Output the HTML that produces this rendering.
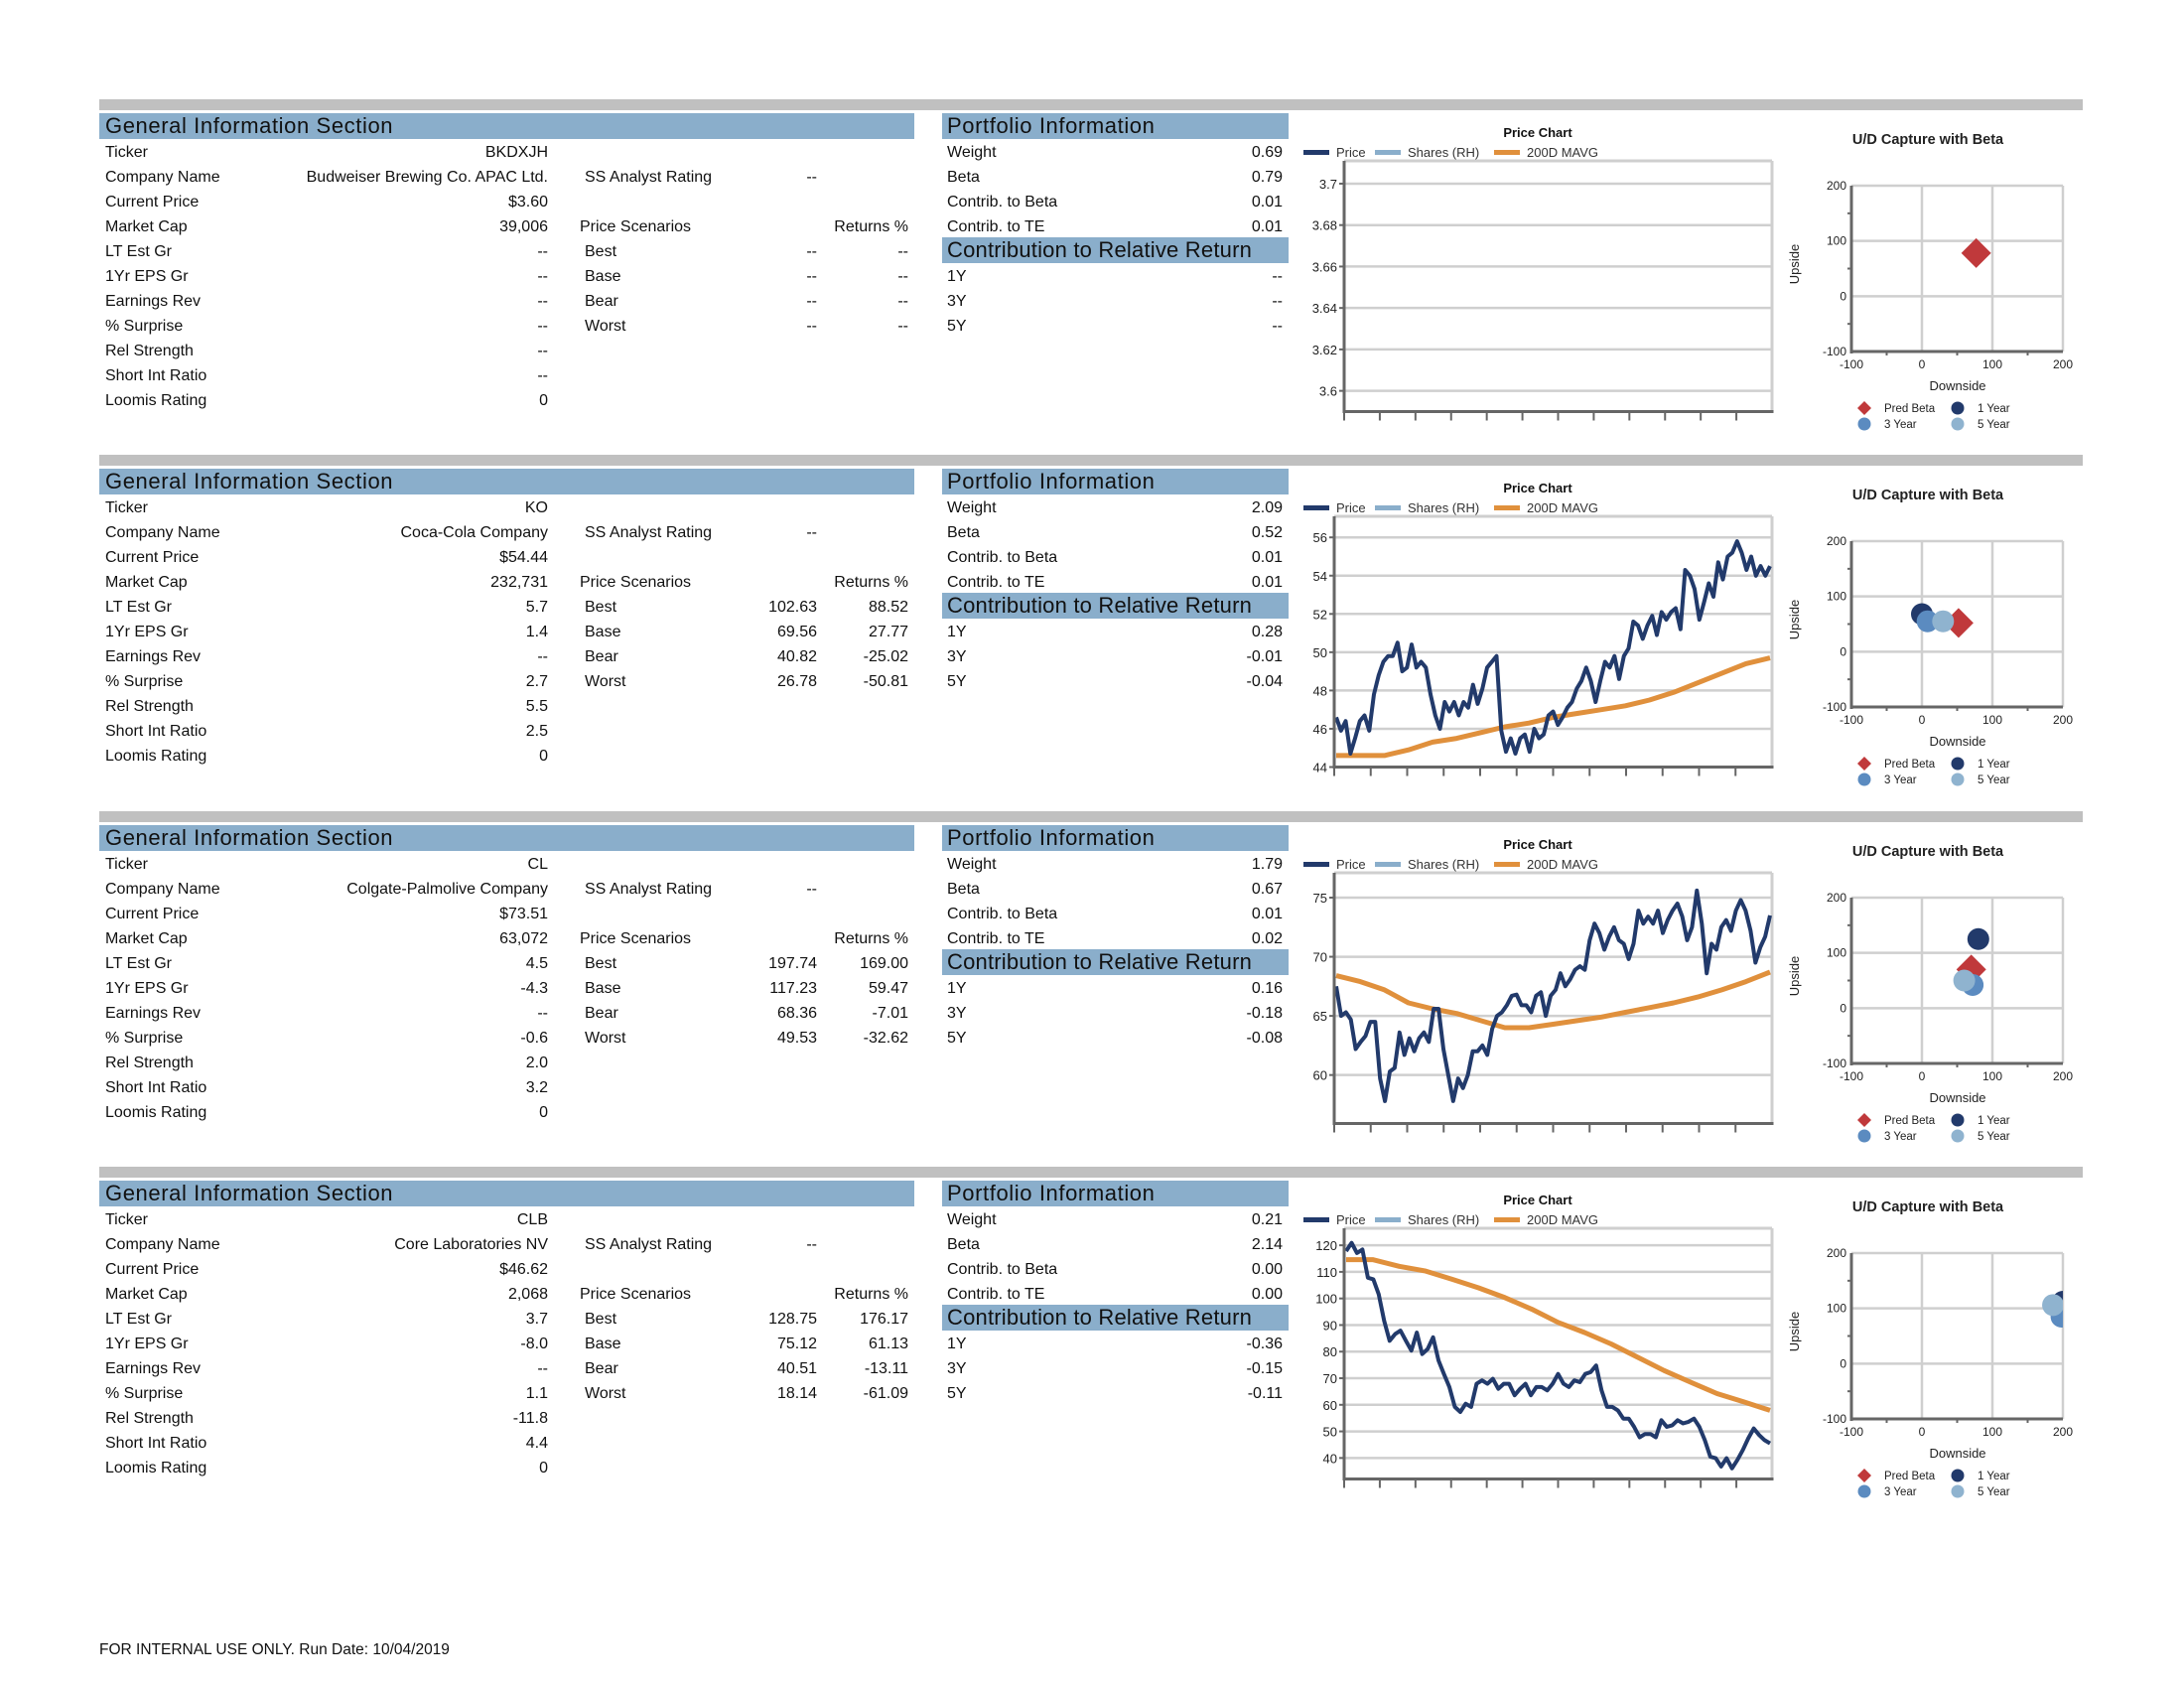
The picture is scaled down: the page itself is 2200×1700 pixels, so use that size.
<!DOCTYPE html>
<html><head><meta charset="utf-8">
<style>
html,body{margin:0;padding:0;background:#fff;}
svg{display:block;font-family:"Liberation Sans",sans-serif;}
</style></head>
<body>
<svg id="page" width="2200" height="1700" viewBox="0 0 2200 1700" xmlns="http://www.w3.org/2000/svg">
<rect x="0" y="0" width="2200" height="1700" fill="#fff"/>
<text x="100" y="1666" font-size="15.5" fill="#111">FOR INTERNAL USE ONLY. Run Date: 10/04/2019</text>
</svg>
<script>
// ---------- table data ----------
const blockTops = [100, 458, 817, 1175];
const genLabels = ["Ticker","Company Name","Current Price","Market Cap","LT Est Gr","1Yr EPS Gr","Earnings Rev","% Surprise","Rel Strength","Short Int Ratio","Loomis Rating"];
const genValues = [
 ["BKDXJH","Budweiser Brewing Co. APAC Ltd.","$3.60","39,006","--","--","--","--","--","--","0"],
 ["KO","Coca-Cola Company","$54.44","232,731","5.7","1.4","--","2.7","5.5","2.5","0"],
 ["CL","Colgate-Palmolive Company","$73.51","63,072","4.5","-4.3","--","-0.6","2.0","3.2","0"],
 ["CLB","Core Laboratories NV","$46.62","2,068","3.7","-8.0","--","1.1","-11.8","4.4","0"]
];
const scenNames = ["Best","Base","Bear","Worst"];
const scenPrices = [["--","--","--","--"],["102.63","69.56","40.82","26.78"],["197.74","117.23","68.36","49.53"],["128.75","75.12","40.51","18.14"]];
const scenReturns = [["--","--","--","--"],["88.52","27.77","-25.02","-50.81"],["169.00","59.47","-7.01","-32.62"],["176.17","61.13","-13.11","-61.09"]];
const portLabels = ["Weight","Beta","Contrib. to Beta","Contrib. to TE"];
const portValues = [["0.69","0.79","0.01","0.01"],["2.09","0.52","0.01","0.01"],["1.79","0.67","0.01","0.02"],["0.21","2.14","0.00","0.00"]];
const contribLabels = ["1Y","3Y","5Y"];
const contribValues = [["--","--","--"],["0.28","-0.01","-0.04"],["0.16","-0.18","-0.08"],["-0.36","-0.15","-0.11"]];

// ---------- price chart data ----------
const price1 = [];
const mavg1 = [];
const price2 = [46.6,45.9,46.4,44.7,45.5,46.4,46.7,45.9,47.8,48.8,49.5,49.8,49.8,50.5,49.0,49.2,50.4,49.2,49.5,49.2,47.8,46.7,46.0,47.4,46.9,47.4,46.7,47.4,47.1,48.3,47.3,48.1,49.2,49.5,49.8,45.9,44.8,45.5,44.7,45.5,45.7,44.8,46.0,45.5,45.7,46.7,46.9,46.2,46.6,47.1,47.4,48.1,48.5,49.2,48.5,47.4,48.5,49.5,49.2,49.8,48.6,49.8,50.2,51.6,51.4,50.7,51.4,51.9,50.9,52.1,51.7,52.1,52.3,51.2,54.3,54.0,53.3,51.7,52.6,53.6,52.9,54.7,53.8,55.0,55.2,55.8,55.2,54.3,55.0,54.0,54.5,54.0,54.5];
const mavg2 = [44.6,44.6,44.6,44.9,45.3,45.5,45.8,46.1,46.3,46.6,46.8,47.0,47.2,47.5,47.9,48.4,48.9,49.4,49.7];
const price3 = [67.5,65.0,65.3,64.7,62.2,62.8,63.3,64.5,64.5,59.7,57.8,60.3,60.6,63.6,61.7,63.1,62.0,63.1,63.6,62.8,65.6,65.6,62.2,60.0,57.8,59.7,58.9,60.0,62.0,62.0,62.5,61.7,63.9,65.0,65.3,65.9,66.7,66.8,65.9,65.9,65.3,66.7,67.0,65.0,66.7,67.2,68.6,67.5,68.1,68.9,69.2,68.9,71.4,72.8,72.0,70.6,71.7,72.5,71.4,71.1,69.8,71.1,73.9,72.8,73.4,72.8,73.9,72.0,73.1,73.9,74.5,73.4,71.4,72.5,75.6,72.8,68.6,71.1,70.6,72.5,73.1,72.2,73.9,74.8,73.9,72.2,69.5,70.8,71.7,73.5];
const mavg3 = [68.4,67.9,67.2,66.1,65.6,65.2,64.6,64.0,64.0,64.3,64.6,64.9,65.3,65.7,66.1,66.6,67.2,67.9,68.7];
const price4 = [117.8,120.9,117.1,118.4,107.8,107.2,101.6,91.6,84.1,86.6,87.9,84.1,80.4,87.2,79.1,81.0,85.4,76.6,71.6,66.7,59.2,57.3,60.4,59.2,67.9,69.2,67.9,69.8,66.0,67.9,67.9,63.6,66.0,67.9,63.6,66.7,66.7,65.4,67.9,71.6,67.9,66.7,69.2,68.5,71.6,72.3,74.8,65.4,59.2,59.2,57.9,54.8,54.8,51.7,47.8,49.0,49.0,47.8,54.2,51.7,52.3,54.2,53.0,53.6,54.8,51.7,46.7,40.5,39.9,36.8,39.9,36.1,39.3,43.0,47.4,51.1,48.6,46.7,45.5];
const mavg4 = [114.6,114.6,112.1,110.3,107.2,104.0,100.3,96.0,91.0,87.2,82.9,77.9,72.9,68.5,64.2,61.1,57.9];
const yTicks1 = ["3.6","3.62","3.64","3.66","3.68","3.7"];
const yTicks2 = ["44","46","48","50","52","54","56"];
const yTicks3 = ["60","65","70","75"];
const yTicks4 = ["40","50","60","70","80","90","100","110","120"];

// ---------- scatter data (downside, upside) ----------
const scatterSeries = ["Pred Beta","1 Year","3 Year","5 Year"];
const predBetaX = [77, 52, 70, null];
const predBetaY = [78, 52, 70, null];
const year1X = [null, 0, 80, 200];
const year1Y = [null, 68, 125, 112];
const year3X = [null, 8, 72, 198];
const year3Y = [null, 55, 42, 85];
const year5X = [null, 30, 60, 186];
const year5Y = [null, 55, 50, 106];
const scatterTicks = ["-100","0","100","200"];

const NS = "http://www.w3.org/2000/svg";
const svg = document.getElementById("page");
function mk(tag, attrs, parent){
  const e = document.createElementNS(NS, tag);
  for (const k in attrs) e.setAttribute(k, attrs[k]);
  (parent || svg).appendChild(e);
  return e;
}
function tx(x, y, s, size, anchor, parent, extra){
  const a = {x:x, y:y, "font-size":size, fill:"#111", "text-anchor":anchor||"start"};
  if (extra) for (const k in extra) a[k] = extra[k];
  const e = mk("text", a, parent);
  e.textContent = s;
  return e;
}

const charts = [
  {left:1354, price:price1, mavg:mavg1, ymin:3.59, ymax:3.711, ticks:yTicks1},
  {left:1344, price:price2, mavg:mavg2, ymin:44, ymax:57.1, ticks:yTicks2},
  {left:1344, price:price3, mavg:mavg3, ymin:55.9, ymax:77.1, ticks:yTicks3},
  {left:1354, price:price4, mavg:mavg4, ymin:32.1, ymax:126.4, ticks:yTicks4}
];
const HDR = {"letter-spacing":"0.6"};

blockTops.forEach(function(T, b){
  const g = mk("g", {});
  
  

  const bar = mk("rect", {x:100, y:T, width:1998, height:11, fill:"#c0c0c0"}, g);
  
  

  const gh = mk("rect", {x:100, y:T+14, width:821, height:26, fill:"#8aaecb"}, g);
  
  
  tx(106, T+34, "General Information Section", 22, "start", g, HDR);

  const ph = mk("rect", {x:949, y:T+14, width:349, height:26, fill:"#8aaecb"}, g);
  
  
  tx(954, T+34, "Portfolio Information", 22, "start", g, HDR);

  const ch = mk("rect", {x:949, y:T+139, width:349, height:26, fill:"#8aaecb"}, g);
  
  
  tx(954, T+159, "Contribution to Relative Return", 22, "start", g, {"letter-spacing":"0.2"});

  const fs = 16;
  genLabels.forEach(function(l, k){
    const yy = T + 58 + 25*k;
    const a = tx(106, yy, l, fs, "start", g);
    
    
    const v = tx(552, yy, genValues[b][k], fs, "end", g);
    
    
  });
  tx(589, T+58+25, "SS Analyst Rating", fs, "start", g);
  tx(823, T+58+25, "--", fs, "end", g);
  tx(584, T+58+75, "Price Scenarios", fs, "start", g);
  tx(915, T+58+75, "Returns %", fs, "end", g);
  scenNames.forEach(function(n, k){
    const yy = T + 58 + 25*(k+4);
    tx(589, yy, n, fs, "start", g);
    const p = tx(823, yy, scenPrices[b][k], fs, "end", g);
    
    
    const r = tx(915, yy, scenReturns[b][k], fs, "end", g);
    
    
  });
  portLabels.forEach(function(l, k){
    const yy = T + 58 + 25*k;
    tx(954, yy, l, fs, "start", g);
    const v = tx(1292, yy, portValues[b][k], fs, "end", g);
    
    
  });
  contribLabels.forEach(function(l, k){
    const yy = T + 58 + 25*(k+5);
    tx(954, yy, l, fs, "start", g);
    const v = tx(1292, yy, contribValues[b][k], fs, "end", g);
    
    
  });

  // ---------- price chart ----------
  const c = charts[b];
  const L = c.left, R = 1785, PT = T + 62, PB = T + 314.5;
  const pc = mk("g", {}, g);
  
  
  tx(1549, T+38, "Price Chart", 13, "middle", pc, {"font-weight":"bold"});
  const legItems = [["Price","#223a6b",1313],["Shares (RH)","#8aaecb",1385],["200D MAVG","#e0903c",1505]];
  legItems.forEach(function(it){
    const ln = mk("rect", {x:it[2], y:T+51, width:26, height:5, fill:it[1]}, pc);
    
    
    const t = tx(it[2]+33, T+58, it[0], 13, "start", pc, {fill:"#333"});
    
    
  });
  const ys = function(v){ return PB - (v - c.ymin) / (c.ymax - c.ymin) * (PB - PT); };
  mk("line", {x1:L, y1:PT, x2:R, y2:PT, stroke:"#cfcfcf", "stroke-width":3}, pc);
  mk("line", {x1:R, y1:PT, x2:R, y2:PB, stroke:"#cfcfcf", "stroke-width":3}, pc);
  c.ticks.forEach(function(t){
    const v = parseFloat(t), y = ys(v);
    const gl = mk("line", {x1:L, y1:y, x2:R, y2:y, stroke:"#cfcfcf", "stroke-width":2.5}, pc);
    
    
    mk("line", {x1:L-5, y1:y, x2:L, y2:y, stroke:"#666", "stroke-width":2}, pc);
    const lb = tx(L-7, y+5, t, 13, "end", pc, {fill:"#222"});
    
    
  });
  const clipId = "clipP" + b;
  const cp = mk("clipPath", {id:clipId}, pc);
  mk("rect", {x:L, y:PT, width:R-L, height:PB-PT}, cp);
  function series(arr, color, w, name){
    if (!arr.length) return;
    const pts = arr.map(function(v, i){ return (L + 2 + i/(arr.length-1)*(R-L-4)).toFixed(1) + "," + ys(v).toFixed(1); }).join(" ");
    const pl = mk("polyline", {points:pts, fill:"none", stroke:color, "stroke-width":w, "stroke-linejoin":"round", "clip-path":"url(#"+clipId+")"}, pc);
    
    
  }
  series(c.mavg, "#e0903c", 5, "mavg-line");
  series(c.price, "#223a6b", 4, "price-line");
  mk("line", {x1:L, y1:PT, x2:L, y2:PB+1.5, stroke:"#666", "stroke-width":3}, pc);
  mk("line", {x1:L, y1:PB, x2:R+1.5, y2:PB, stroke:"#666", "stroke-width":3}, pc);
  for (let i = 0; i < 12; i++){
    const xx = L + i*(R-L)/12;
    mk("line", {x1:xx, y1:PB, x2:xx, y2:PB+9, stroke:"#666", "stroke-width":2}, pc);
  }

  // ---------- scatter ----------
  const SL = 1865, SR = 2078, ST = T + 87, SB = T + 254;
  const sc = mk("g", {}, g);
  
  
  tx(1942, T+45, "U/D Capture with Beta", 14.5, "middle", sc, {"font-weight":"bold", fill:"#222"});
  const sx = function(v){ return SL + (v + 100) / 300 * (SR - SL); };
  const sy = function(v){ return SB - (v + 100) / 300 * (SB - ST); };
  scatterTicks.forEach(function(t){
    const v = parseFloat(t);
    mk("line", {x1:SL, y1:sy(v), x2:SR, y2:sy(v), stroke:"#cfcfcf", "stroke-width":2.5}, sc);
    mk("line", {x1:sx(v), y1:ST, x2:sx(v), y2:SB, stroke:"#cfcfcf", "stroke-width":2.5}, sc);
    const yl = tx(SL-5, sy(v)+4, t, 12, "end", sc, {fill:"#222"});
    
    
    const xl = tx(sx(v), SB+17, t, 12, "middle", sc, {fill:"#222"});
    
    
  });
  [-50, 50, 150].forEach(function(v){
    mk("line", {x1:SL-4, y1:sy(v), x2:SL, y2:sy(v), stroke:"#666", "stroke-width":2}, sc);
    mk("line", {x1:sx(v), y1:SB, x2:sx(v), y2:SB+4, stroke:"#666", "stroke-width":2}, sc);
  });
  const yt = tx(1812, T+166, "Upside", 13, "middle", sc, {transform:"rotate(-90 1812 "+(T+166)+")", fill:"#222"});
  
  
  const xt = tx(1972, T+293, "Downside", 13, "middle", sc, {fill:"#222"});
  
  
  const scId = "clipS" + b;
  const scp = mk("clipPath", {id:scId}, sc);
  mk("rect", {x:SL, y:ST, width:SR-SL, height:SB-ST}, scp);
  const pts = mk("g", {"clip-path":"url(#"+scId+")"}, sc);
  if (predBetaX[b] !== null){
    const cx = sx(predBetaX[b]), cy = sy(predBetaY[b]);
    const d = mk("polygon", {points:(cx)+","+(cy-15)+" "+(cx+15)+","+cy+" "+cx+","+(cy+15)+" "+(cx-15)+","+cy, fill:"#c0393b"}, pts);
    
    
  }
  const circ = [[year1X, year1Y, "#223a6b", "one-year-point"], [year3X, year3Y, "#5b8bc0", "three-year-point"], [year5X, year5Y, "#8fb3cf", "five-year-point"]];
  circ.forEach(function(s){
    if (s[0][b] === null) return;
    const e = mk("circle", {cx:sx(s[0][b]), cy:sy(s[1][b]), r:11, fill:s[2]}, pts);
    
    
  });
  mk("line", {x1:SL, y1:ST, x2:SL, y2:SB+2, stroke:"#666", "stroke-width":3}, sc);
  mk("line", {x1:SL, y1:SB, x2:SR, y2:SB, stroke:"#666", "stroke-width":3}, sc);
  // legend
  const lx = [1878, 1972], lyy = [T+311, T+327];
  const lcol = ["#c0393b", "#223a6b", "#5b8bc0", "#8fb3cf"];
  scatterSeries.forEach(function(nm, i){
    const x = lx[i % 2], y = lyy[Math.floor(i / 2)];
    let m;
    if (i === 0) m = mk("polygon", {points:x+","+(y-7)+" "+(x+7)+","+y+" "+x+","+(y+7)+" "+(x-7)+","+y, fill:lcol[i]}, sc);
    else m = mk("circle", {cx:x, cy:y, r:6.5, fill:lcol[i]}, sc);
    
    
    const t = tx(x+20, y+4, nm, 11.5, "start", sc, {fill:"#222"});
    
    
  });
});
</script>
</body></html>
